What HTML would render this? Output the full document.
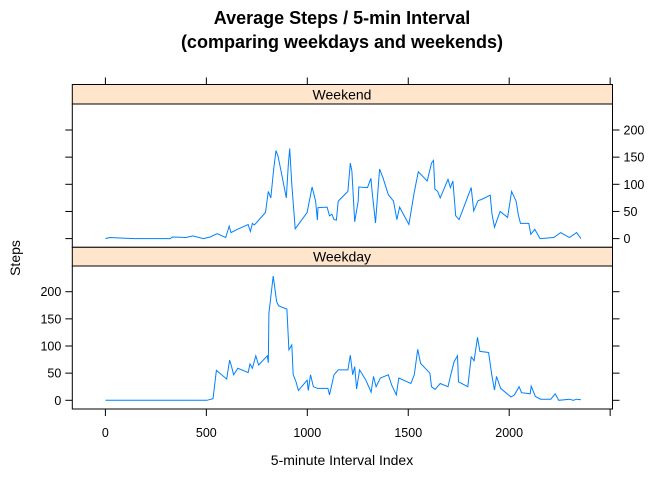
<!DOCTYPE html>
<html><head><meta charset="utf-8"><style>
body{margin:0;background:#fff}
svg{display:block;font-family:"Liberation Sans",Arial,sans-serif}
</style></head><body>
<svg id="chart" width="672" height="480" viewBox="0 0 672 480">
<text x="342" y="24" text-anchor="middle" font-size="18" font-weight="bold">Average Steps / 5-min Interval</text>
<text x="342" y="48" text-anchor="middle" font-size="18" font-weight="bold">(comparing weekdays and weekends)</text>
<text x="20" y="258" text-anchor="middle" font-size="14" transform="rotate(-90 20 258)">Steps</text>
<text x="342" y="465" text-anchor="middle" font-size="14">5-minute Interval Index</text>
<g id="marks"></g>
</svg>
<script>
const xTicks=[0,500,1000,1500,2000,2500];
const xTickLabels=["0","500","1000","1500","2000",""];
const yTicks=[0,50,100,150,200];
const yTickLabels=["0","50","100","150","200"];
const weekdayX=[0,399,502,533,550,601,615,625,635,656,707,716,728,745,759,802,807,810,822,831,848,858,899,909,923,930,944,956,999,1005,1016,1030,1050,1102,1110,1132,1153,1201,1213,1225,1235,1244,1259,1290,1316,1328,1341,1362,1401,1418,1441,1453,1513,1530,1547,1561,1607,1615,1633,1658,1697,1709,1727,1744,1749,1795,1812,1826,1843,1855,1898,1915,1927,1937,1958,1996,2009,2026,2049,2061,2104,2109,2130,2155,2206,2228,2245,2300,2317,2334,2355];
const weekdaySteps=[0,0,0,3,55,39,74,62,47,59,51,67,59,82,65,82,69,160,200,229,182,174,168,93,102,47,34,18,37,18,47,25,22,22,10,47,56,56,83,47,62,21,56,37,15,44,25,41,47,28,10,41,31,47,94,68,50,25,20,31,25,44,71,82,34,25,80,73,116,90,88,44,19,44,22,10,6,10,25,14,12,26,7,2,2,12,0,2,0,2,1];
const weekendX=[0,22,142,322,331,399,433,485,519,553,596,613,622,653,707,718,728,738,793,807,819,834,845,855,870,896,906,913,923,940,999,1024,1041,1050,1053,1098,1110,1122,1132,1144,1153,1201,1213,1221,1235,1252,1255,1298,1315,1321,1338,1358,1375,1401,1427,1444,1457,1503,1529,1550,1594,1615,1625,1632,1646,1658,1697,1709,1721,1735,1752,1812,1824,1846,1863,1906,1915,1927,1955,1992,2012,2034,2046,2056,2097,2107,2127,2153,2221,2255,2298,2334,2355];
const weekendSteps=[0,2,0,0,3,2,5,0,3,9,2,23,11,17,26,13,28,25,48,87,75,130,162,152,124,75,136,166,100,18,48,95,69,34,57,58,42,45,35,34,69,87,139,124,31,69,95,94,111,87,29,128,112,81,69,35,58,26,84,123,106,139,144,91,87,75,109,94,106,42,35,94,51,70,72,80,45,21,50,39,87,69,42,28,28,8,17,0,2,11,2,11,0];

const NS="http://www.w3.org/2000/svg";
const g=document.getElementById('marks');
const L=72.3,R=612.5;
function xScale(v){return 105.4+v*0.2019;}
function mk(tag,attrs){const e=document.createElementNS(NS,tag);for(const k in attrs)e.setAttribute(k,attrs[k]);g.appendChild(e);return e;}
function panel(name,top,bottom,stripTop,xs,ys,labelSide){
  const zero=bottom-8.7,k=0.543;
  const yScale=v=>zero-v*k;
  const s=mk('rect',{x:L,y:stripTop,width:R-L,height:top-stripTop,fill:'#ffe5cc',stroke:'#000','stroke-width':1});
  
  
  const st=mk('text',{x:342,y:(stripTop+top)/2+5,'text-anchor':'middle','font-size':14});
  st.textContent=name;
  
  
  const b=mk('rect',{x:L,y:top,width:R-L,height:bottom-top,fill:'none',stroke:'#000','stroke-width':1});
  
  
  yTicks.forEach((t,i)=>{
    const y=yScale(t);
    const tl=mk('line',{x1:L-7,x2:L,y1:y,y2:y,stroke:'#000'});
    
    
    const tr=mk('line',{x1:R,x2:R+7,y1:y,y2:y,stroke:'#000'});
    
    
    const lab=labelSide==='left'?mk('text',{x:L-11,y:y+4.5,'text-anchor':'end','font-size':12.5}):mk('text',{x:R+11,y:y+4.5,'text-anchor':'start','font-size':12.5});
    lab.textContent=yTickLabels[i];
    
    
  });
  const pts=xs.map((x,i)=>xScale(x).toFixed(1)+','+yScale(ys[i]).toFixed(1)).join(' ');
  const pl=mk('polyline',{points:pts,fill:'none',stroke:'#0080ff','stroke-width':1});
  
  
}
panel('Weekend',104,247.3,84.5,weekendX,weekendSteps,'right');
panel('Weekday',266,409,247.3,weekdayX,weekdaySteps,'left');
xTicks.forEach((t,i)=>{
  const x=xScale(t);
  const tt=mk('line',{x1:x,x2:x,y1:77.5,y2:84.5,stroke:'#000'});
  
  
  const tb=mk('line',{x1:x,x2:x,y1:409,y2:416,stroke:'#000'});
  
  
  const lab=mk('text',{x:x,y:437,'text-anchor':'middle','font-size':12.5});
  lab.textContent=xTickLabels[i];
  
  
});
</script>
</body></html>
